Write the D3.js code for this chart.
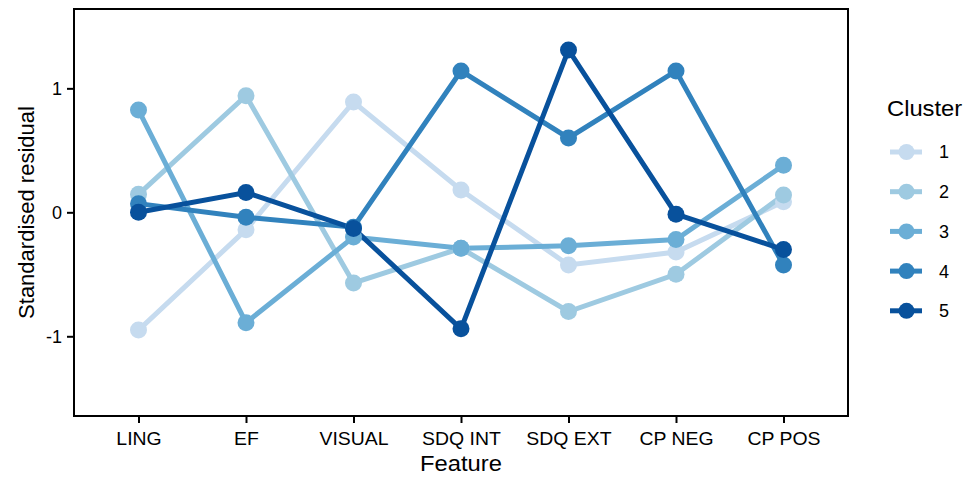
<!DOCTYPE html>
<html>
<head>
<meta charset="utf-8">
<script src="https://cdn.jsdelivr.net/npm/d3@7"></script>
<style>
    body { margin: 0; background: #fff; }
    svg text { font-family: "Liberation Sans", Arial, Helvetica, sans-serif; fill: #000; }
</style>
</head>
<body>
<svg id="chart" width="969" height="477"></svg>
<script>
let features = ['LING', 'EF', 'VISUAL', 'SDQ INT', 'SDQ EXT', 'CP NEG', 'CP POS']
let clusters = ['1', '2', '3', '4', '5']
let colours = ['#c6dbef', '#9ecae1', '#6baed6', '#3182bd', '#08519c']
let yTicks = [-1, 0, 1]

// standardised residual per feature, one array per cluster
let cluster1 = [-0.95, -0.14, 0.89, 0.18, -0.425, -0.32, 0.085]
let cluster2 = [0.145, 0.94, -0.57, -0.29, -0.80, -0.50, 0.14]
let cluster3 = [0.825, -0.89, -0.20, -0.29, -0.27, -0.22, 0.38]
let cluster4 = [0.07, -0.04, -0.12, 1.14, 0.60, 1.14, -0.425]
let cluster5 = [0.0, 0.16, -0.13, -0.94, 1.31, -0.015, -0.30]
let seriesValues = [cluster1, cluster2, cluster3, cluster4, cluster5]

let svg = d3.select('svg#chart')
let panel = {left: 74, right: 848, top: 9, bottom: 416}
let stretch = 'scale(1.08,1)'   // reference type runs a little wide

let x = d3.scalePoint()
    .domain(features)
    .range([panel.left, panel.right])
    .padding(0.6)

let y = d3.scaleLinear()
    .domain([-1.643, 1.64])
    .range([panel.bottom, panel.top])

let colour = d3.scaleOrdinal().domain(clusters).range(colours)

let series = clusters.map((c, i) => {
    return {
        cluster: c,
        points: features.map((f, j) => ({feature: f, value: seriesValues[i][j]}))
    }
})

// axes
let xAxis = svg.append('g')
    .attr('transform', 'translate(0,' + panel.bottom + ')')
    .call(d3.axisBottom(x).tickSize(7).tickPadding(5))
let yAxis = svg.append('g')
    .attr('transform', 'translate(' + panel.left + ',0)')
    .call(d3.axisLeft(y).tickValues(yTicks).tickFormat(d => String(d)).tickSize(7).tickPadding(5))

;[xAxis, yAxis].forEach((g) => {
    g.select('.domain').remove()
    g.selectAll('.tick line').attr('stroke', '#000').attr('stroke-width', 2)
    g.selectAll('.tick text').attr('font-size', 18).attr('fill', '#000')
})
xAxis.selectAll('.tick text').attr('dy', '0.95em').attr('transform', stretch)

// lines first, then points on top
let line = d3.line()
    .x(d => x(d.feature))
    .y(d => y(d.value))

svg.append('g').selectAll('path.series')
    .data(series)
    .enter().append('path')
    .attr('class', 'series')
    .attr('d', d => line(d.points))
    .attr('fill', 'none')
    .attr('stroke', d => colour(d.cluster))
    .attr('stroke-width', 5)

series.forEach((s) => {
    svg.append('g').selectAll('circle')
        .data(s.points)
        .enter().append('circle')
        .attr('cx', d => x(d.feature))
        .attr('cy', d => y(d.value))
        .attr('r', 8.5)
        .attr('fill', colour(s.cluster))
})

// panel border
svg.append('rect')
    .attr('x', panel.left)
    .attr('y', panel.top)
    .attr('width', panel.right - panel.left)
    .attr('height', panel.bottom - panel.top)
    .attr('fill', 'none')
    .attr('stroke', '#000')
    .attr('stroke-width', 2)

// axis titles
svg.append('text')
    .attr('transform', 'translate(' + ((panel.left + panel.right) / 2) + ',471) ' + stretch)
    .attr('text-anchor', 'middle')
    .attr('font-size', 22)
    .text('Feature')

svg.append('text')
    .attr('transform', 'translate(34,' + ((panel.top + panel.bottom) / 2) + ') rotate(-90)')
    .attr('text-anchor', 'middle')
    .attr('font-size', 22)
    .text('Standardised residual')

// legend
let legend = svg.append('g').attr('transform', 'translate(887,0)')
legend.append('text')
    .attr('transform', 'translate(0,116) ' + stretch)
    .attr('font-size', 22)
    .text('Cluster')

let keys = legend.selectAll('g.key')
    .data(clusters)
    .enter().append('g')
    .attr('class', 'key')
    .attr('transform', (d, i) => 'translate(0,' + (152 + i * 39.7) + ')')
keys.append('line')
    .attr('x1', 3).attr('x2', 35)
    .attr('stroke', d => colour(d))
    .attr('stroke-width', 5)
keys.append('circle')
    .attr('cx', 19.5)
    .attr('r', 8)
    .attr('fill', d => colour(d))
keys.append('text')
    .attr('x', 52)
    .attr('dy', '0.36em')
    .attr('font-size', 18)
    .text(d => d)
</script>
</body>
</html>
